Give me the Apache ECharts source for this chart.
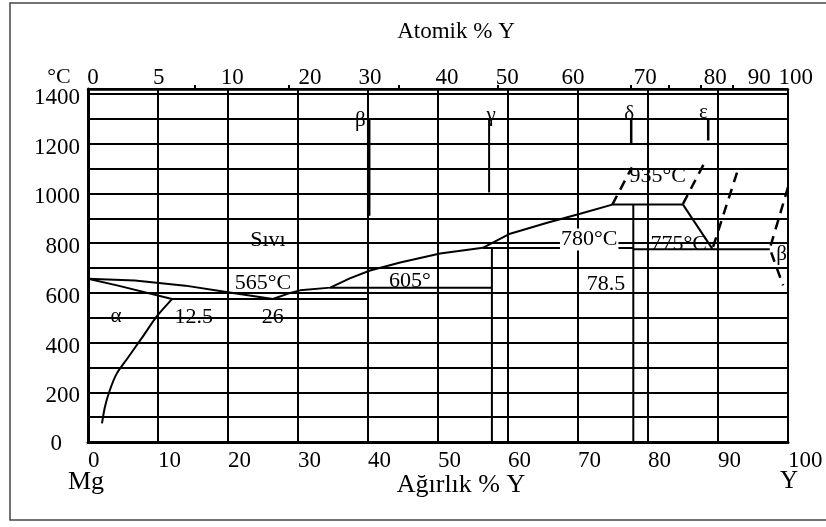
<!DOCTYPE html>
<html><head><meta charset="utf-8">
<script src="https://cdn.jsdelivr.net/npm/echarts@6/dist/echarts.min.js"></script>
<style>html,body{margin:0;padding:0;background:#fff}#c{width:826px;height:527px}</style>
</head><body><div id="c"></div>
<script>
// ---- data (wt% Y, °C) ----
const atomicLabels = ['0','5','10','20','30','40','50','60','70','80','90','100'];
const atomicLabelAt = [0.7,10.1,20.6,31.7,40.3,51.3,59.9,69.3,79.6,89.6,95.9,101.1];
const atomicMinorTicks = [15.3,28.7,44.4,58.6,77.6,83,87.6,92.1];
const tempLabels = [0,200,400,600,800,1000,1200,1400];

const liquidusMg = [[0,657],[6.7,650],[13.9,629],[20,602],[26.4,575]];
const solidusMg = [[0,657],[4.3,629],[12,575]];
const solvusMg = [[12,575],[9.9,508],[7.7,419],[5.7,339],[4.1,275],[3.1,207],[2.4,139],[2,75]];
const liquidusMid = [[26.4,575],[28.9,600],[30.3,610],[34.6,621],[37.4,658],[40.3,690],[44.6,722],[50.3,758],[56.4,781],[60.3,838],[65.6,882],[70.3,918],[74.9,955]];
const liquidusY = [[85,955],[89.2,777]];
const eutectic565 = [[12,575],[40,575]];
const peritectic605 = [[34.6,620],[57.7,620]];
const peritectic780 = [[56.4,780],[77.9,780]];
const eutectic775 = [[77.9,775],[97.4,775]];
const peritectic935 = [[74.9,955],[85,955]];
const gammaLine = [[57.7,780],[57.7,0]];
const deltaLine = [[77.9,955],[77.9,0]];
const betaMark = [[40.1,1300],[40.1,910]];
const gammaMark = [[57.3,1300],[57.3,1004]];
const deltaMark = [[77.6,1300],[77.6,1200]];
const epsMark = [[88.6,1300],[88.6,1213]];
const dashed1 = [[74.9,955],[77.7,1105]];
const dashed2 = [[85,958],[88.1,1125]];
const dashed3 = [[89.3,785],[92.9,1100]];
const dashed4 = [[100,1025],[97.4,778],[99.3,630]];

const annotations = [
  [25.7,811,'Sıvı'],[25,638,'565°C'],[4,505,'α'],[15.1,501,'12.5'],[26.4,501,'26'],
  [46,646,'605°'],[71.6,815,'780°C'],[84.4,795,'775°C'],[74,634,'78.5'],[81.4,1068,'935°C'],
  [99.1,755,'β'],[38.9,1294,'β'],[57.6,1314,'γ'],[77.3,1318,'δ'],[87.9,1326,'ε']
];

const FONT = '"Liberation Serif","Times New Roman",serif';
const chart = echarts.init(document.getElementById('c'), null, {renderer:'canvas'});

function line(data, w, dash, smooth) {
  return {type:'line', xAxisIndex:0, yAxisIndex:0, data, symbol:'none', smooth: smooth||false,
    silent:true, animation:false, clip:false,
    lineStyle:{color:'#000', width:w||2, type: dash ? [10,7] : 'solid'}};
}
const plainLabel = {color:'#000', fontFamily:FONT, textBorderWidth:0, textBorderColor:'transparent', textShadowBlur:0, opacity:1};

const series = [
  line(liquidusMg,2), line(solidusMg,2), line(solvusMg,2,false,0.25),
  line(liquidusMid,2), line(liquidusY,2),
  line(eutectic565,2), line(peritectic605,2), line(peritectic780,2), line(eutectic775,2), line(peritectic935,2),
  line(gammaLine,2), line(deltaLine,2),
  line(betaMark,3.5), line(gammaMark,2), line(deltaMark,2.5), line(epsMark,2.5),
  line(dashed1,2.5,true), line(dashed2,2.5,true), line(dashed3,2.5,true), line(dashed4,2.5,true),
  {type:'scatter', xAxisIndex:1, yAxisIndex:0, symbolSize:0, clip:false, silent:true, animation:false,
    itemStyle:{color:'#000'},
    data: atomicLabelAt.map((x,i)=>({value:[x,1420], label:{formatter: atomicLabels[i]}})),
    label:Object.assign({show:true, position:'inside', offset:[0,-11], fontSize:23}, plainLabel)},
  {type:'scatter', xAxisIndex:0, yAxisIndex:0, symbolSize:0, clip:false, silent:true, animation:false, z:5,
    itemStyle:{color:'#000'},
    data: annotations.map(a=>({value:[a[0],a[1]], label:{formatter:a[2],
      backgroundColor: a[2]==='780°C' ? '#fff' : 'transparent', fontSize: /^[αβγδε]$/.test(a[2]) ? 21 : 22}})),
    label:Object.assign({show:true, position:'inside', fontSize:22, padding:[0,1]}, plainLabel)}
];

chart.setOption({
  animation:false,
  backgroundColor:'#fff',
  grid:{left:88, top:89, width:700, height:353, containLabel:false},
  xAxis:[
    {type:'value', position:'bottom', min:0, max:100, interval:10,
      axisLine:{show:true, lineStyle:{color:'#000', width:3}}, axisTick:{show:false},
      splitLine:{show:true, lineStyle:{color:'#000', width:2}},
      axisLabel:{show:true, color:'#000', fontFamily:FONT, fontSize:23, align:'left', margin:7}},
    {type:'value', position:'top', min:0, max:100,
      axisLine:{show:true, lineStyle:{color:'#000', width:2.5}},
      axisTick:{show:true, inside:false, length:4, customValues: atomicMinorTicks, lineStyle:{color:'#000', width:2}},
      axisLabel:{show:false}, splitLine:{show:false}}
  ],
  yAxis:[{type:'value', min:0, max:1420, interval:100,
    axisLine:{show:true, lineStyle:{color:'#000', width:3}}, axisTick:{show:false},
    splitLine:{show:true, lineStyle:{color:'#000', width:2}},
    axisLabel:{show:true, margin:8, color:'#000', fontFamily:FONT, fontSize:23,
      formatter: v => tempLabels.indexOf(v) < 0 ? '' : (v===0 ? '{z|0}' : '{n|'+v+'}'),
      rich:{n:{fontFamily:FONT, fontSize:23, color:'#000', padding:[8,0,0,0]},
            z:{fontFamily:FONT, fontSize:23, color:'#000', padding:[4,18,0,0]}}}}],
  graphic:[
    {type:'rect', shape:{x:10, y:3, width:840, height:517}, style:{fill:'none', stroke:'#444', lineWidth:1.5}, silent:true},
    {type:'text', x:456, y:32, style:{text:'Atomik % Y', font:'23px '+FONT, fill:'#000', textAlign:'center', textVerticalAlign:'middle'}},
    {type:'text', x:59, y:77, style:{text:'°C', font:'22px '+FONT, fill:'#000', textAlign:'center', textVerticalAlign:'middle'}},
    {type:'text', x:86, y:482, style:{text:'Mg', font:'26px '+FONT, fill:'#000', textAlign:'center', textVerticalAlign:'middle'}},
    {type:'text', x:461, y:485, style:{text:'Ağırlık % Y', font:'26px '+FONT, fill:'#000', textAlign:'center', textVerticalAlign:'middle'}},
    {type:'text', x:789, y:481, style:{text:'Y', font:'25px '+FONT, fill:'#000', textAlign:'center', textVerticalAlign:'middle'}}
  ],
  series
});
</script></body></html>
